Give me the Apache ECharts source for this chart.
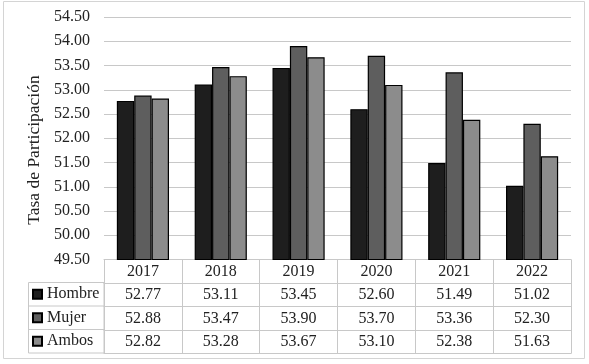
<!DOCTYPE html>
<html>
<head>
<meta charset="utf-8">
<script src="https://cdn.jsdelivr.net/npm/echarts@6/dist/echarts.min.js"></script>
<style>
  html, body { margin: 0; padding: 0; background: #fff; }
  #chart { width: 589px; height: 364px; }
</style>
</head>
<body>
<div id="chart"></div>
<script>
// años y tasas de participación
const years = ['2017', '2018', '2019', '2020', '2021', '2022'];
const hombre = [52.77, 53.11, 53.45, 52.60, 51.49, 51.02];
const mujer = [52.88, 53.47, 53.90, 53.70, 53.36, 52.30];
const ambos = [52.82, 53.28, 53.67, 53.10, 52.38, 51.63];
const seriesNames = ['Hombre', 'Mujer', 'Ambos'];
const seriesColors = ['#1e1e1e', '#5e5e5e', '#8c8c8c'];
const yTitle = 'Tasa de Participación';

const font = "'Liberation Serif', 'Times New Roman', serif";
const lineColor = '#c8c8c8';
const textColor = '#222';

// la tabla de datos: una fila por eje x extra
const rowH = 23.5;
const tableTop = 259;
const tableRows = [hombre, mujer, ambos];

const chart = echarts.init(document.getElementById('chart'));

const xAxes = [{
  type: 'category',
  data: years,
  position: 'bottom',
  axisLine: { lineStyle: { color: lineColor, width: 1 } },
  axisTick: { show: true, length: rowH * 4, lineStyle: { color: lineColor } },
  axisLabel: { color: textColor, fontFamily: font, fontSize: 16, margin: 4 }
}];
tableRows.forEach((row, i) => {
  xAxes.push({
    type: 'category',
    data: row.map(v => v.toFixed(2)),
    position: 'bottom',
    offset: rowH * (i + 1),
    axisLine: { lineStyle: { color: lineColor, width: 1 } },
    axisTick: { show: false },
    axisLabel: { color: textColor, fontFamily: font, fontSize: 16, margin: 4 }
  });
});
// línea inferior de la tabla
xAxes.push({
  type: 'category',
  data: years,
  position: 'bottom',
  offset: rowH * 4,
  axisLine: { lineStyle: { color: lineColor, width: 1 } },
  axisTick: { show: false },
  axisLabel: { show: false }
});

const legends = seriesNames.map((name, i) => ({
  data: [name],
  left: 32,
  top: tableTop + rowH * (i + 1) + rowH / 2 - 9,
  padding: 0,
  itemWidth: 9,
  itemHeight: 9,
  icon: 'rect',
  selectedMode: false,
  textStyle: { color: textColor, fontFamily: font, fontSize: 16, lineHeight: 18 }
}));

chart.setOption({
  animation: false,
  textStyle: { fontFamily: font },
  grid: { left: 104, right: 18, top: 17, bottom: 104.5 },
  legend: legends,
  xAxis: xAxes,
  yAxis: {
    type: 'value',
    min: 49.5,
    max: 54.5,
    interval: 0.5,
    axisLine: { show: false },
    axisTick: { show: false },
    splitLine: { lineStyle: { color: lineColor, width: 1 } },
    axisLabel: {
      color: textColor, fontFamily: font, fontSize: 16, margin: 14,
      formatter: v => v.toFixed(2)
    }
  },
  graphic: [
    { type: 'rect', shape: { x: 3.5, y: 1.5, width: 581, height: 357 },
      style: { fill: 'none', stroke: '#d4d4d4', lineWidth: 1 }, z: 0 },
    { type: 'text', x: 34, y: 150, rotation: Math.PI / 2,
      style: { text: yTitle, fill: textColor, font: '17.5px ' + font,
               align: 'center', verticalAlign: 'middle' } },
    { type: 'rect', shape: { x: 28.5, y: tableTop + rowH, width: 75.5, height: rowH * 3 },
      style: { fill: 'none', stroke: lineColor, lineWidth: 1 } },
    { type: 'line', shape: { x1: 28.5, y1: tableTop + rowH * 2, x2: 104, y2: tableTop + rowH * 2 },
      style: { stroke: lineColor, lineWidth: 1 } },
    { type: 'line', shape: { x1: 28.5, y1: tableTop + rowH * 3, x2: 104, y2: tableTop + rowH * 3 },
      style: { stroke: lineColor, lineWidth: 1 } }
  ],
  series: [hombre, mujer, ambos].map((d, i) => ({
    name: seriesNames[i],
    type: 'bar',
    data: d,
    barGap: '0%',
    barCategoryGap: '33%',
    itemStyle: { color: seriesColors[i], borderColor: '#000', borderWidth: 1.2 }
  }))
});
</script>
</body>
</html>
